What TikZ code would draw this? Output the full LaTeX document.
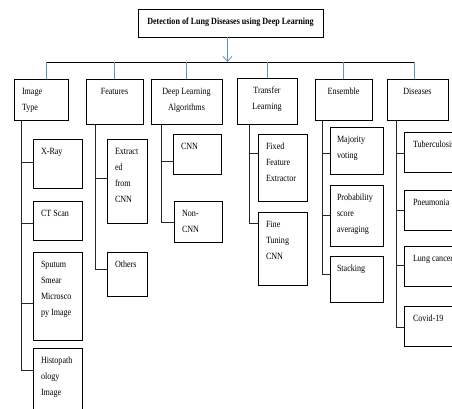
\documentclass[tikz,border=0pt]{standalone}
\usepackage{fontspec}
\setmainfont{Liberation Serif}[FakeStretch=0.85]
\usepackage{tikz}
\usetikzlibrary{arrows.meta}
\usepackage{xcolor}
\definecolor{dropblue}{RGB}{91,150,210}

\newcommand{\cell}[3]{\parbox[t][#2][t]{#1}{\raggedright\strut#3}}
\newcommand{\ccell}[3]{\parbox[t][#2][t]{#1}{\centering\strut#3}}

\begin{document}
\begin{tikzpicture}[x=1pt,y=-1pt,
  box/.style={draw, line width=1pt, anchor=north west, inner xsep=8pt, inner ysep=4pt, outer sep=0pt,
    font=\fontsize{9.5}{16}\selectfont},
  tree/.style={line width=1pt, black!85},
  drop/.style={line width=0.8pt, dropblue},
  bus/.style={line width=1pt, black}]
\useasboundingbox (0,0) rectangle (452,408);

\node[box, inner xsep=4pt] (title) at (138,9) {\ccell{177pt}{20pt}{\textbf{Detection of Lung Diseases using Deep Learning}}};

\node[box] (imgtype) at (14,79) {\cell{38pt}{33pt}{Image\\Type}};
\node[box, inner xsep=4pt] (features) at (86,79) {\ccell{49pt}{37pt}{Features}};
\node[box, inner xsep=4pt] (dla) at (151,79) {\ccell{63pt}{37pt}{Deep Learning\\Algorithms}};
\node[box, inner xsep=4pt] (transfer) at (237,78) {\ccell{52pt}{38pt}{Transfer\\Learning}};
\node[box, inner xsep=4pt] (ensemble) at (315,79) {\ccell{49pt}{33pt}{Ensemble}};
\node[box, inner xsep=4pt] (diseases) at (387,79) {\ccell{53pt}{33pt}{Diseases}};

% image type
\node[box] (xray) at (33,139) {\cell{33pt}{41pt}{X-Ray}};
\node[box] (ct) at (33,201) {\cell{33pt}{31pt}{CT Scan}};
\node[box] (sputum) at (33,252) {\cell{33pt}{80pt}{Sputum\\Smear\\Microsco\\py Image}};
\node[box] (histo) at (33,348) {\cell{33pt}{72pt}{Histopath\\ology\\Image}};

% features
\node[box] (extracted) at (107,139) {\cell{24pt}{76pt}{Extract\\ed\\from\\CNN}};
\node[box] (others) at (107,252) {\cell{24pt}{36pt}{Others}};

% deep learning
\node[box] (cnn) at (173,134) {\cell{32pt}{32pt}{CNN}};
\node[box] (noncnn) at (174,201) {\cell{32pt}{33pt}{Non-\\CNN}};

% transfer learning
\node[box] (fixed) at (258,134) {\cell{33pt}{59pt}{Fixed\\Feature\\Extractor}};
\node[box] (fine) at (258,212) {\cell{33pt}{65pt}{Fine\\Tuning\\CNN}};

% ensemble
\node[box, inner xsep=7pt] (majority) at (330,127) {\cell{39pt}{39pt}{Majority\\voting}};
\node[box, inner xsep=7pt] (prob) at (330,185) {\cell{39pt}{53pt}{Probability\\score\\averaging}};
\node[box, inner xsep=7pt] (stacking) at (330,256) {\cell{39pt}{38pt}{Stacking}};

% diseases
\node[box, inner xsep=9pt] (tb) at (404,132) {\cell{34pt}{32pt}{\mbox{Tuberculosis}}};
\node[box, inner xsep=9pt] (pneu) at (404,190) {\cell{34pt}{32pt}{\mbox{Pneumonia}}};
\node[box, inner xsep=9pt] (lung) at (404,246) {\cell{34pt}{32pt}{\mbox{Lung cancer}}};
\node[box, inner xsep=9pt] (covid) at (404,306) {\cell{34pt}{32pt}{Covid-19}};

%blue lines
\coordinate (bus) at (0,62);
\draw[drop, -{Straight Barb[length=5pt,width=9pt]}] ([xshift=-3]title.south) -- ([xshift=-3]title.south |- bus);
\draw[bus] ([xshift=5]imgtype.north |- bus) -- ([xshift=-3]diseases.north |- bus);
\draw[drop] ([xshift=5]imgtype.north |- bus) -- ([xshift=5]imgtype.north);
\foreach \b in {features,dla,transfer,ensemble}
  \draw[drop] (\b.north |- bus) -- (\b.north);
\draw[drop] ([xshift=-3]diseases.north |- bus) -- ([xshift=-3]diseases.north);

%tree lines
\foreach \p/\dx/\c/\dy in {imgtype/7/xray/23, imgtype/7/ct/22, imgtype/7/sputum/51, imgtype/7/histo/22,
    features/9/extracted/39, features/9/others/17,
    dla/10/cnn/27, dla/10/noncnn/21,
    transfer/12/fixed/19, transfer/12/fine/11,
    ensemble/7/majority/26, ensemble/7/prob/30, ensemble/7/stacking/18,
    diseases/9/tb/21, diseases/9/pneu/20, diseases/9/lung/19, diseases/9/covid/21}
  \draw[tree] ([xshift=\dx]\p.south west) |- ([yshift=-\dy]\c.north west);

\end{tikzpicture}
\end{document}
